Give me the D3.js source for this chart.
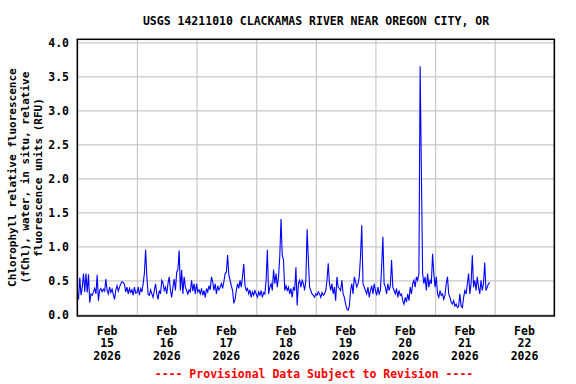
<!DOCTYPE html>
<html>
<head>
<meta charset="utf-8">
<script src="https://cdn.jsdelivr.net/npm/d3@7"></script>
<style>
  html, body { margin: 0; padding: 0; background: #fff; }
  svg { display: block; }
  text { font-family: "DejaVu Sans Mono", monospace; font-weight: bold; fill: #000; }
</style>
</head>
<body>
<svg id="chart" width="576" height="384"></svg>
<script>
// ---- Data (30-minute readings, RFU) ----
const title = "USGS 14211010 CLACKAMAS RIVER NEAR OREGON CITY, OR";
const yLabelLines = ["Chlorophyll relative fluorescence", "(fChl), water, in situ, relative", "fluorescence units (RFU)"];
const footer = "---- Provisional Data Subject to Revision ----";
const startDate = Date.UTC(2026, 1, 15, 0, 0);
const stepMinutes = 30;
const yTicks = [0.0, 0.5, 1.0, 1.5, 2.0, 2.5, 3.0, 3.5, 4.0];
const dayTicks = ["Feb 15", "Feb 16", "Feb 17", "Feb 18", "Feb 19", "Feb 20", "Feb 21", "Feb 22"];

const feb15 = [0.30,0.22,0.54,0.28,0.40,0.60,0.33,0.60,0.32,0.59,0.17,0.30,
               0.28,0.33,0.38,0.30,0.58,0.20,0.35,0.38,0.33,0.37,0.34,0.52,
               0.35,0.30,0.40,0.32,0.37,0.29,0.22,0.36,0.42,0.34,0.40,0.45,
               0.48,0.47,0.44,0.33,0.40,0.30,0.38,0.32,0.36,0.28,0.40,0.31];
const feb16 = [0.32,0.40,0.28,0.38,0.33,0.45,0.60,0.95,0.55,0.30,0.28,0.36,
               0.30,0.25,0.35,0.45,0.30,0.22,0.35,0.30,0.50,0.46,0.35,0.40,
               0.30,0.45,0.55,0.35,0.25,0.40,0.52,0.35,0.62,0.66,0.94,0.35,
               0.65,0.30,0.55,0.40,0.35,0.30,0.36,0.33,0.50,0.34,0.45,0.30];
const feb17 = [0.45,0.33,0.36,0.30,0.38,0.28,0.35,0.25,0.38,0.33,0.42,0.36,
               0.55,0.48,0.35,0.45,0.30,0.42,0.36,0.40,0.45,0.38,0.48,0.60,
               0.62,0.87,0.58,0.50,0.42,0.35,0.16,0.22,0.35,0.45,0.38,0.50,
               0.40,0.55,0.74,0.42,0.35,0.38,0.30,0.36,0.25,0.33,0.28,0.35];
const feb18 = [0.30,0.25,0.33,0.28,0.35,0.25,0.32,0.30,0.50,0.95,0.30,0.40,
               0.45,0.35,0.66,0.45,0.60,0.40,0.55,0.85,1.40,0.87,0.80,0.35,
               0.42,0.35,0.40,0.30,0.38,0.25,0.40,0.35,0.69,0.13,0.45,0.50,
               0.40,0.50,0.45,0.35,0.50,1.25,0.80,0.40,0.35,0.30,0.28,0.25];
const feb19 = [0.30,0.28,0.33,0.30,0.25,0.32,0.28,0.30,0.35,0.50,0.75,0.45,
               0.35,0.45,0.30,0.40,0.20,0.55,0.40,0.38,0.35,0.50,0.30,0.25,
               0.15,0.08,0.06,0.12,0.35,0.45,0.30,0.55,0.48,0.40,0.45,0.55,
               0.85,1.31,0.45,0.40,0.35,0.30,0.40,0.25,0.35,0.42,0.30,0.45];
const feb20 = [0.35,0.28,0.40,0.30,0.35,0.70,1.14,0.45,0.40,0.30,0.45,0.35,
               0.42,0.80,0.40,0.35,0.30,0.38,0.25,0.35,0.28,0.30,0.20,0.15,
               0.25,0.18,0.30,0.20,0.40,0.30,0.45,0.50,0.40,0.55,0.50,0.60,
               3.65,2.10,0.60,0.45,0.55,0.35,0.60,0.40,0.50,0.45,0.89,0.60];
const feb21 = [0.40,0.55,0.30,0.25,0.35,0.28,0.30,0.22,0.28,0.45,0.55,0.30,
               0.25,0.18,0.15,0.20,0.12,0.15,0.10,0.12,0.30,0.12,0.10,0.25,
               0.35,0.30,0.45,0.60,0.30,0.45,0.87,0.40,0.50,0.35,0.55,0.40,
               0.30,0.50,0.35,0.45,0.76,0.35,0.40,0.45,0.47];

// ---- Build series ----
const values = [].concat(feb15, feb16, feb17, feb18, feb19, feb20, feb21);
const data = values.map((v, i) => ({ t: new Date(startDate + i * stepMinutes * 60000), v }));

// ---- Layout ----
const svg = d3.select("#chart");
const pLeft = 77.3, pRight = 554.3, pTop = 39.3, pBottom = 316;

const x = d3.scaleUtc()
  .domain([new Date(Date.UTC(2026, 1, 15)), new Date(Date.UTC(2026, 1, 23))])
  .range([pLeft, pRight]);
const y = d3.scaleLinear().domain([-0.025, 4.045]).range([pBottom, pTop]);

// gridlines (horizontal)
svg.append("g")
  .attr("transform", `translate(${pLeft},0)`)
  .call(d3.axisLeft(y).tickValues(yTicks).tickSize(-(pRight - pLeft)).tickFormat(""))
  .call(g => g.select(".domain").remove())
  .call(g => g.selectAll("line").attr("stroke", "#c8c8c8").attr("stroke-width", 1.2));

// gridlines (vertical, at midnight)
svg.append("g")
  .attr("transform", `translate(0,${pBottom})`)
  .call(d3.axisBottom(x).ticks(d3.utcDay.every(1)).tickSize(-(pBottom - pTop)).tickFormat(""))
  .call(g => g.select(".domain").remove())
  .call(g => g.selectAll("line").attr("stroke", "#c8c8c8").attr("stroke-width", 1.2));

// y tick labels
svg.append("g")
  .selectAll("text")
  .data(yTicks)
  .join("text")
  .attr("x", 69)
  .attr("y", d => y(d) + 4.2)
  .attr("text-anchor", "end")
  .attr("font-size", "11.5px")
  .text(d => d.toFixed(1));

// x tick labels (centered at noon)
const noonTicks = d3.range(8).map(i => new Date(Date.UTC(2026, 1, 15 + i, 12)));
const xl = svg.append("g")
  .selectAll("text")
  .data(noonTicks)
  .join("text")
  .attr("x", d => x(d))
  .attr("y", 334.5)
  .attr("text-anchor", "middle")
  .attr("font-size", "11.5px");
xl.append("tspan").attr("x", d => x(d)).attr("dy", 0).text((d, i) => dayTicks[i].split(" ")[0]);
xl.append("tspan").attr("x", d => x(d)).attr("dy", 12.8).text((d, i) => dayTicks[i].split(" ")[1]);
xl.append("tspan").attr("x", d => x(d)).attr("dy", 12.8).text(d => d.getUTCFullYear());

// data line
const line = d3.line().x(d => x(d.t)).y(d => y(d.v));
svg.append("path")
  .datum(data)
  .attr("fill", "none")
  .attr("stroke", "#0000ff")
  .attr("stroke-width", 1.1)
  .attr("stroke-linejoin", "miter")
  .attr("d", line);

// frame
svg.append("rect")
  .attr("x", pLeft).attr("y", pTop)
  .attr("width", pRight - pLeft).attr("height", pBottom - pTop)
  .attr("fill", "none").attr("stroke", "#000").attr("stroke-width", 1.5);

// title
svg.append("text")
  .attr("x", 316).attr("y", 24.5)
  .attr("text-anchor", "middle")
  .attr("font-size", "11.5px")
  .text(title);

// y-axis label (three lines, rotated)
const cy = (pTop + pBottom) / 2;
const ylab = svg.append("text")
  .attr("transform", `translate(0,${cy}) rotate(-90)`)
  .attr("text-anchor", "middle")
  .attr("font-size", "11px");
yLabelLines.forEach((s, i) => {
  ylab.append("tspan").attr("x", 0).attr("y", 15.5 + i * 13).text(s);
});

// footer
svg.append("text")
  .attr("x", 314).attr("y", 378)
  .attr("text-anchor", "middle")
  .attr("font-size", "11.5px")
  .style("fill", "#ff0000")
  .text(footer);
</script>
</body>
</html>
